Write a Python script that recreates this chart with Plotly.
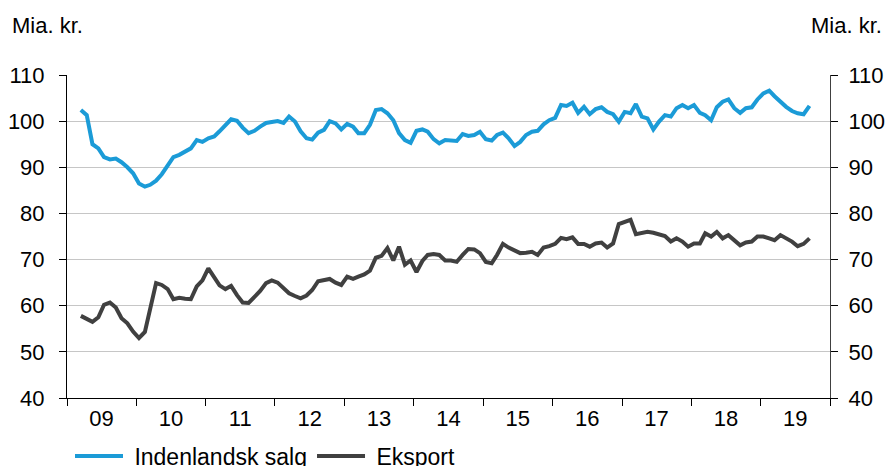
import pandas as pd
import plotly.graph_objects as go

# Monthly observations, March 2009 - September 2019
start_month = "2009-03-01"
indenlandsk_salg = [
    102.4, 101.3, 95.0, 94.1, 92.2, 91.7, 91.9, 91.1, 90.0, 88.7,          # 2009 (Mar-Dec)
    86.5, 85.8, 86.2, 87.1, 88.5, 90.2, 92.2, 92.7, 93.3, 94.1, 95.9, 95.5,  # 2010
    96.3, 96.7, 97.8, 99.2, 100.4, 100.1, 98.6, 97.4, 97.9, 98.8, 99.6, 99.8,  # 2011
    100.0, 99.6, 101.0, 99.9, 97.8, 96.3, 96.0, 97.5, 98.1, 100.0, 99.5, 98.2,  # 2012
    99.4, 98.8, 97.4, 97.4, 99.2, 102.4, 102.6, 101.7, 100.2, 97.4, 95.9, 95.3,  # 2013
    97.9, 98.2, 97.7, 96.1, 95.2, 95.9, 95.9, 95.7, 97.2, 96.8, 97.0, 97.7,  # 2014
    96.1, 95.8, 97.0, 97.5, 96.3, 94.6, 95.5, 97.0, 97.7, 97.9, 99.3, 100.2,  # 2015
    100.7, 103.5, 103.3, 104.0, 101.8, 103.1, 101.5, 102.6, 103.0, 102.0, 101.5, 99.9,  # 2016
    102.0, 101.7, 103.7, 101.0, 100.6, 98.2, 99.9, 101.3, 101.0, 102.8, 103.5, 102.8,  # 2017
    103.5, 101.8, 101.3, 100.2, 103.0, 104.2, 104.7, 102.8, 101.8, 102.8, 103.0, 104.7,  # 2018
    106.0, 106.6, 105.4, 104.2, 103.1, 102.2, 101.7, 101.5, 103.3,          # 2019 (Jan-Sep)
]
eksport = [
    57.8, 57.1, 56.5, 57.5, 60.2, 60.7, 59.6, 57.3, 56.2, 54.4,
    53.0, 54.3, 59.8, 64.9, 64.5, 63.6, 61.4, 61.7, 61.5, 61.4, 64.2, 65.5,
    68.1, 66.3, 64.4, 63.6, 64.3, 62.3, 60.7, 60.6, 61.8, 63.2, 64.9, 65.5,
    65.0, 63.8, 62.7, 62.1, 61.6, 62.2, 63.4, 65.3, 65.6, 65.8, 65.0, 64.5,
    66.3, 65.8, 66.3, 66.8, 67.6, 70.4, 70.8, 72.5, 69.8, 72.8, 68.9, 69.8,
    67.3, 69.7, 71.0, 71.2, 71.0, 69.8, 69.8, 69.5, 71.0, 72.3, 72.2, 71.4,
    69.5, 69.2, 71.0, 73.4, 72.6, 71.9, 71.4, 71.5, 71.7, 71.0, 72.6, 72.9,
    73.4, 74.7, 74.4, 74.8, 73.4, 73.4, 72.8, 73.5, 73.7, 72.6, 73.5, 77.7,
    78.2, 78.6, 75.5, 75.7, 76.0, 75.8, 75.4, 75.1, 73.9, 74.6, 73.9, 72.8,
    73.5, 73.5, 75.7, 75.0, 76.0, 74.6, 75.3, 74.2, 73.1, 73.7, 73.9, 75.0,
    75.0, 74.6, 74.2, 75.3, 74.6, 73.9, 72.9, 73.4, 74.6,
]
assert len(indenlandsk_salg) == len(eksport)

year_labels = ["09", "10", "11", "12", "13", "14", "15", "16", "17", "18", "19"]
y_ticks = [40, 50, 60, 70, 80, 90, 100, 110]

months = pd.date_range(start_month, periods=len(eksport), freq="MS") + pd.Timedelta(days=14)
label_pos = [f"20{y}-07-02" for y in year_labels]

FONT = "Liberation Sans, Arial, sans-serif"
BLUE = "#1b9bd7"
DARK = "#404040"
FS = 22

fig = go.Figure()
fig.add_trace(go.Scatter(x=months, y=indenlandsk_salg, name="\u00a0Indenlandsk salg",
                         mode="lines", line=dict(color=BLUE, width=4)))
fig.add_trace(go.Scatter(x=months, y=eksport, name="\u00a0Eksport", yaxis="y2",
                         mode="lines", line=dict(color=DARK, width=4)))

W, H = 886, 466
M_L, M_T, M_R, M_B = 67, 75, 56, 68
plot_h = H - M_T - M_B
title_y = (plot_h + M_T - 25) / plot_h   # paper coords, above plot area
legend_y = -(456 - (H - M_B)) / plot_h    # paper coords, below plot area

fig.update_layout(
    width=W, height=H,
    margin=dict(l=M_L, r=M_R, t=M_T, b=M_B, autoexpand=False),
    paper_bgcolor="white", plot_bgcolor="white",
    font=dict(family=FONT, size=FS, color="black"),
    showlegend=True,
    legend=dict(orientation="h", xref="container", yref="paper",
                x=70 / W, y=legend_y, xanchor="left", yanchor="middle",
                font=dict(size=23), itemwidth=48, tracegroupgap=0,
                bgcolor="rgba(0,0,0,0)"),
    xaxis=dict(
        type="date", range=["2009-01-01", "2020-01-01"], automargin=False,
        tickmode="array", tickvals=label_pos, ticktext=year_labels,
        ticks="", showgrid=False, showline=True, linecolor="black", linewidth=1,
        ticklabelstandoff=1,
        minor=dict(dtick="M12", tick0="2009-01-01", ticks="outside", ticklen=7,
                   tickcolor="black", tickwidth=1, showgrid=False),
        zeroline=False,
    ),
    yaxis=dict(
        range=[40, 110], tickmode="array", tickvals=y_ticks, automargin=False,
        showline=True, linecolor="black", linewidth=1,
        ticks="outside", ticklen=7, tickcolor="black",
        showgrid=True, gridcolor="#c6c6c6", gridwidth=1, zeroline=False,
        ticklabelstandoff=10,
    ),
    yaxis2=dict(
        range=[40, 110], tickmode="array", tickvals=y_ticks, automargin=False,
        overlaying="y", side="right",
        showline=True, linecolor="#404040", linewidth=1,
        ticks="outside", ticklen=7, tickcolor="black",
        showgrid=False, zeroline=False, ticklabelstandoff=6,
    ),
    annotations=[
        dict(text="Mia. kr.", xref="paper", yref="paper", x=0, y=title_y,
             xanchor="left", yanchor="middle", xshift=-57, showarrow=False,
             font=dict(size=FS)),
        dict(text="Mia. kr.", xref="paper", yref="paper", x=1, y=title_y,
             xanchor="right", yanchor="middle", xshift=54, showarrow=False,
             font=dict(size=FS)),
    ],
)

# remove the default page margin so the figure fills the window exactly
fig.write_html(
    "out.html",
    config={"displayModeBar": False},
    post_script="document.body.style.margin='0';document.body.style.overflow='hidden';",
)
